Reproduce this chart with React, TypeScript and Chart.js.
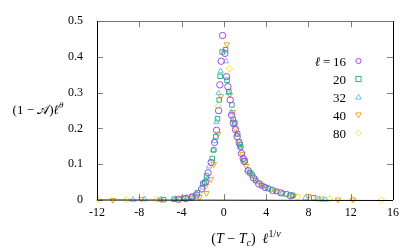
import React, { useEffect, useRef } from "react";
import { Chart, registerables } from "chart.js";

Chart.register(...registerables);

const SERIES_LABELS = ["16", "20", "32", "40", "80"];
const SERIES_COLORS = ["#a648e2", "#2eae8a", "#6ec0ee", "#eaa820", "#f0e24a"];
const SERIES_STYLES = ["circle", "rect", "triangle", "triangle", "rectRot"];
const SERIES_ROTATION = [0, 0, 0, 180, 0];

const X_TICKS = [-12, -8, -4, 0, 4, 8, 12, 16];
const Y_TICKS = [0, 0.1, 0.2, 0.3, 0.4, 0.5];

const x16 = [-4.3, -3.6, -3.0, -2.6, -2.1, -1.75, -1.49, -1.2, -0.88, -0.69, -0.5, -0.38, -0.25, -0.12, 0.1, 0.25, 0.38, 0.6, 0.73, 0.9, 1.1, 1.26, 1.45, 1.67, 1.83, 1.92, 2.3, 2.8, 3.3, 3.9, 4.6, 5.4, 6.3];
const y16 = [0.002, 0.004, 0.008, 0.014, 0.031, 0.05, 0.076, 0.105, 0.161, 0.195, 0.25, 0.322, 0.388, 0.46, 0.41, 0.345, 0.317, 0.28, 0.237, 0.215, 0.197, 0.177, 0.16, 0.13, 0.116, 0.108, 0.082, 0.062, 0.045, 0.035, 0.027, 0.02, 0.012];

const x20 = [-5.7, -4.7, -3.8, -3.0, -2.5, -2.0, -1.83, -1.64, -1.1, -0.95, -0.76, -0.6, -0.44, -0.35, -0.16, 0.16, 0.3, 0.47, 0.76, 0.88, 1.04, 1.3, 1.51, 1.6, 2.0, 2.46, 2.68, 3.0, 3.57, 4.2, 5.0, 5.9, 6.5, 8.5];
const y20 = [0.001, 0.002, 0.005, 0.01, 0.02, 0.045, 0.048, 0.067, 0.116, 0.14, 0.177, 0.227, 0.28, 0.346, 0.414, 0.42, 0.335, 0.303, 0.266, 0.226, 0.215, 0.185, 0.155, 0.148, 0.11, 0.076, 0.07, 0.055, 0.04, 0.032, 0.024, 0.017, 0.013, 0.006];

const x32 = [-8.6, -7.5, -6.0, -4.6, -3.5, -2.7, -2.0, -1.6, -1.39, -1.0, -0.88, -0.7, -0.5, -0.3, 0.19, 0.45, 0.7, 0.95, 1.2, 1.5, 1.85, 2.24, 2.6, 3.2, 3.8, 4.5, 5.5, 6.5, 7.7, 9.0, 9.6];
const y32 = [0.001, 0.002, 0.001, 0.003, 0.007, 0.015, 0.035, 0.06, 0.094, 0.14, 0.165, 0.218, 0.299, 0.36, 0.388, 0.3, 0.245, 0.21, 0.183, 0.15, 0.12, 0.083, 0.072, 0.05, 0.038, 0.028, 0.019, 0.012, 0.005, 0.002, 0.001];

const x40 = [-10.5, -7.8, -6.0, -4.2, -3.2, -2.3, -1.7, -1.64, -1.23, -0.95, -0.54, -0.28, 0.28, 0.57, 0.85, 1.1, 1.4, 1.75, 2.1, 2.5, 2.9, 3.4, 4.0, 4.8, 5.6, 6.6, 8.0, 9.2, 10.8, 12.2];
const y40 = [0.0, 0.003, 0.001, 0.002, 0.006, 0.008, 0.04, 0.019, 0.058, 0.1, 0.185, 0.29, 0.435, 0.294, 0.246, 0.2, 0.165, 0.128, 0.095, 0.075, 0.06, 0.047, 0.036, 0.026, 0.019, 0.012, 0.011, 0.004, 0.001, 0.001];

const x80 = [-11.8, -9.2, -6.4, -4.0, -3.0, -2.3, -1.8, -1.07, -0.54, 0.54, 0.95, 1.2, 1.55, 2.0, 2.5, 3.1, 3.7, 4.3, 5.0, 6.0, 7.0, 8.8, 10.0, 12.2, 14.9];
const y80 = [0.0, 0.001, 0.001, 0.003, 0.008, 0.02, 0.045, 0.139, 0.262, 0.367, 0.222, 0.19, 0.145, 0.105, 0.08, 0.055, 0.04, 0.033, 0.024, 0.016, 0.008, 0.005, 0.003, 0.001, 0.0];

const SERIES_X = [x16, x20, x32, x40, x80];
const SERIES_Y = [y16, y20, y32, y40, y80];

const FONT = "'Liberation Serif', 'Times New Roman', serif";

type Part = { t: string; italic?: boolean; size?: number; dy?: number };

function drawRich(ctx: CanvasRenderingContext2D, parts: Part[], x: number, y: number, align: "left" | "center" | "right", base: number) {
  ctx.save();
  ctx.textBaseline = "alphabetic";
  ctx.textAlign = "left";
  const widths = parts.map((p) => {
    ctx.font = `${p.italic ? "italic " : ""}${p.size || base}px ${FONT}`;
    return ctx.measureText(p.t).width;
  });
  const total = widths.reduce((a, b) => a + b, 0);
  let cx = align === "left" ? x : align === "center" ? x - total / 2 : x - total;
  parts.forEach((p, i) => {
    ctx.font = `${p.italic ? "italic " : ""}${p.size || base}px ${FONT}`;
    ctx.fillStyle = "#000";
    ctx.fillText(p.t, cx, y + (p.dy || 0));
    cx += widths[i];
  });
  ctx.restore();
}

const framePlugin = {
  id: "frame",
  afterDraw(chart: any) {
    const { ctx, chartArea } = chart;
    const { left, right, top, bottom } = chartArea;
    const xs = chart.scales.x;
    const ys = chart.scales.y;
    ctx.save();
    ctx.lineWidth = 1;
    ctx.strokeStyle = "#808080";
    X_TICKS.forEach((v) => {
      const px = Math.round(xs.getPixelForValue(v)) + 0.5;
      ctx.beginPath();
      ctx.moveTo(px, bottom);
      ctx.lineTo(px, bottom - 6);
      ctx.moveTo(px, top);
      ctx.lineTo(px, top + 6);
      ctx.stroke();
    });
    Y_TICKS.forEach((v) => {
      const py = Math.round(ys.getPixelForValue(v)) + 0.5;
      ctx.beginPath();
      ctx.moveTo(left, py);
      ctx.lineTo(left + 6, py);
      ctx.moveTo(right, py);
      ctx.lineTo(right - 6, py);
      ctx.stroke();
    });
    ctx.strokeStyle = "#707070";
    ctx.beginPath();
    ctx.moveTo(left, Math.round(top) + 0.5);
    ctx.lineTo(right, Math.round(top) + 0.5);
    ctx.stroke();
    ctx.strokeStyle = "#000";
    ctx.beginPath();
    ctx.moveTo(Math.round(left) + 0.5, top);
    ctx.lineTo(Math.round(left) + 0.5, bottom);
    ctx.lineTo(right, Math.round(bottom) + 0.5);
    ctx.moveTo(Math.round(right) + 0.5, top);
    ctx.lineTo(Math.round(right) + 0.5, bottom);
    ctx.stroke();

    // axis titles
    drawRich(ctx, [
      { t: "(1 − " },
      { t: "𝒜" },
      { t: ")" },
      { t: "ℓ", italic: true },
      { t: "θ", italic: true, size: 9, dy: -6 },
    ], 38, 114, "center", 13);
    drawRich(ctx, [
      { t: "(" },
      { t: "T", italic: true },
      { t: " − " },
      { t: "T", italic: true },
      { t: "c", italic: true, size: 10, dy: 3 },
      { t: ")  " },
      { t: "ℓ", italic: true },
      { t: "1/", size: 10, dy: -6 },
      { t: "ν", italic: true, size: 10, dy: -6 },
    ], 246, 243, "center", 14);

    // legend
    const rows = [61, 79, 97, 115, 133];
    SERIES_LABELS.forEach((lab, i) => {
      const parts: Part[] = i === 0 ? [{ t: "ℓ", italic: true }, { t: "\u2009=\u2009" + lab }] : [{ t: lab }];
      drawRich(ctx, parts, 346, rows[i] + 4.5, "right", 13);
      ctx.save();
      ctx.strokeStyle = SERIES_COLORS[i];
      ctx.lineWidth = 1;
      const cx = 358.5;
      const cy = rows[i];
      const r = 2.6;
      ctx.beginPath();
      const st = SERIES_STYLES[i];
      if (st === "circle") {
        ctx.arc(cx, cy, r, 0, Math.PI * 2);
      } else if (st === "rect") {
        ctx.rect(cx - r, cy - r, 2 * r, 2 * r);
      } else if (st === "triangle") {
        const s = SERIES_ROTATION[i] === 180 ? -1 : 1;
        ctx.moveTo(cx, cy - s * r * 1.1);
        ctx.lineTo(cx + r * 1.1, cy + s * r * 0.8);
        ctx.lineTo(cx - r * 1.1, cy + s * r * 0.8);
        ctx.closePath();
      } else {
        ctx.moveTo(cx, cy - r * 1.2);
        ctx.lineTo(cx + r * 1.2, cy);
        ctx.lineTo(cx, cy + r * 1.2);
        ctx.lineTo(cx - r * 1.2, cy);
        ctx.closePath();
      }
      ctx.stroke();
      ctx.restore();
    });
    ctx.restore();
  },
};

export default function App() {
  const ref = useRef<HTMLCanvasElement | null>(null);
  useEffect(() => {
    document.body.style.margin = "0";
    const canvas = ref.current;
    if (!canvas) return;
    const datasets = SERIES_LABELS.map((lab, i) => ({
      label: "ℓ = " + lab,
      data: SERIES_X[i].map((x, j) => ({ x, y: SERIES_Y[i][j] })),
      pointStyle: SERIES_STYLES[i] as any,
      rotation: SERIES_ROTATION[i],
      borderColor: SERIES_COLORS[i],
      backgroundColor: "rgba(0,0,0,0)",
      pointRadius: 3.2,
      pointBorderWidth: 1,
      borderWidth: 1,
      showLine: false,
      clip: false as any,
    }));
    const chart = new Chart(canvas, {
      type: "scatter",
      data: { datasets },
      options: {
        animation: false,
        responsive: true,
        maintainAspectRatio: false,
        layout: { padding: { left: 0, top: 14, right: 18, bottom: 0 } },
        plugins: { legend: { display: false }, tooltip: { enabled: false } },
        scales: {
          x: {
            type: "linear",
            min: -12,
            max: 16,
            afterFit: (s: any) => { s.height = 48; },
            afterBuildTicks: (s: any) => { s.ticks = X_TICKS.map((v) => ({ value: v })); },
            grid: { display: false, drawTicks: false },
            border: { display: false },
            ticks: { padding: 6, color: "#000", font: { family: FONT, size: 12 }, maxRotation: 0, callback: (v: any) => String(v) },
          },
          y: {
            type: "linear",
            min: 0,
            max: 0.5,
            afterFit: (s: any) => { s.width = 97; },
            afterBuildTicks: (s: any) => { s.ticks = Y_TICKS.map((v) => ({ value: v })); },
            grid: { display: false, drawTicks: false },
            border: { display: false },
            ticks: { padding: 14, color: "#000", font: { family: FONT, size: 12 }, callback: (v: any) => (v === 0 ? "0" : Number(v).toFixed(1)) },
          },
        },
      },
      plugins: [framePlugin],
    });
    return () => chart.destroy();
  }, []);
  return (
    <div style={{ position: "relative", width: 411, height: 248 }}>
      <canvas ref={ref} />
    </div>
  );
}
